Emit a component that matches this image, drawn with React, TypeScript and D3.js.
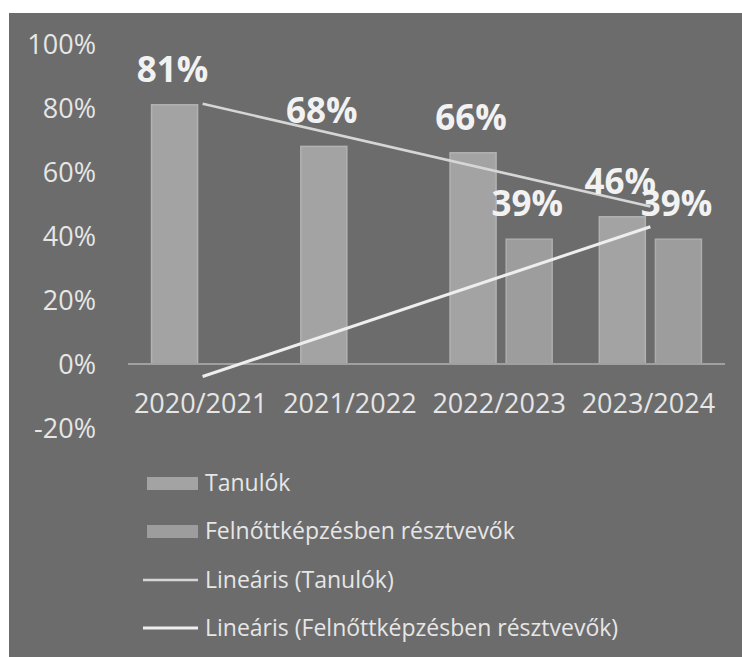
import React from "react";
import * as d3 from "d3";

const categories = ["2020/2021", "2021/2022", "2022/2023", "2023/2024"];
const tanulok = [81, 68, 66, 46];
const felnott = [0, 0, 39, 39];
const yTicks = [-20, 0, 20, 40, 60, 80, 100];
const legendLabels = [
  "Tanulók",
  "Felnőttképzésben résztvevők",
  "Lineáris (Tanulók)",
  "Lineáris (Felnőttképzésben résztvevők)",
];

function linearFit(vals: number[]) {
  const n = vals.length;
  const xs = vals.map((_, i) => i + 1);
  const mx = d3.mean(xs) as number;
  const my = d3.mean(vals) as number;
  let num = 0;
  let den = 0;
  xs.forEach((x, i) => {
    num += (x - mx) * (vals[i] - my);
    den += (x - mx) * (x - mx);
  });
  const slope = num / den;
  const b = my - slope * mx;
  return xs.map((x) => b + slope * x);
}

export default function App() {
  const W = 742;
  const H = 657;
  const font = "'Open Sans', 'Noto Sans', sans-serif";
  const x = d3.scaleBand<string>().domain(categories).range([128, 725]).padding(0);
  const sub = d3
    .scaleBand<string>()
    .domain(["t", "f"])
    .range([0, x.bandwidth()])
    .paddingInner(0.18)
    .paddingOuter(0.42);
  const y = d3.scaleLinear().domain([-20, 100]).range([428, 44]);

  const series = [
    { key: "t", values: tanulok, fill: "#a3a3a3", stroke: "#b2b2b2" },
    { key: "f", values: felnott, fill: "#9d9d9d", stroke: "#adadad" },
  ];
  const trendT = linearFit(tanulok);
  const trendF = linearFit(felnott);
  const cx = (c: string) => (x(c) as number) + x.bandwidth() / 2;
  const line = d3
    .line<number>()
    .x((_, i) => cx(categories[i]))
    .y((d) => y(d));
  const first = (arr: number[]) => [arr[0], arr[arr.length - 1]];
  const lineEnds = (arr: number[]) =>
    d3
      .line<[number, number]>()
      .x((d) => cx(categories[d[0]]))
      .y((d) => y(d[1]))([
      [0, arr[0]],
      [arr.length - 1, arr[arr.length - 1]],
    ]);

  const legendY = [483, 531, 580, 628];

  return (
    <svg
      width={W}
      height={H}
      style={{ position: "absolute", left: 0, top: 0, display: "block" }}
    >
      <rect x={0} y={0} width={W} height={H} fill="#ffffff" />
      <rect x={9} y={13} width={W - 9} height={H - 13} fill="#6c6c6c" />

      {yTicks.map((t) => (
        <text
          key={t}
          x={96}
          y={y(t)}
          dy="0.36em"
          textAnchor="end"
          fontFamily={font}
          fontSize={27}
          fill="#e6e6e6"
        >
          {t + "%"}
        </text>
      ))}

      {series.map((s) =>
        s.values.map((v, i) => {
          const c = categories[i];
          const bx = (x(c) as number) + (sub(s.key) as number);
          const top = y(Math.max(v, 0));
          const h = Math.abs(y(v) - y(0));
          return (
            <rect
              key={s.key + i}
              x={bx}
              y={top}
              width={sub.bandwidth()}
              height={h}
              fill={s.fill}
              stroke={h > 0 ? s.stroke : "none"}
              strokeWidth={1.5}
            />
          );
        })
      )}

      <line x1={128} x2={725} y1={y(0)} y2={y(0)} stroke="#a0a0a0" strokeWidth={2} />

      {categories.map((c) => (
        <text
          key={c}
          x={cx(c) - 2}
          y={413}
          textAnchor="middle"
          fontFamily={font}
          fontSize={27}
          fill="#e6e6e6"
        >
          {c}
        </text>
      ))}

      <path d={lineEnds(trendT) as string} stroke="#d6d6d6" strokeWidth={2.5} fill="none" />
      <path d={lineEnds(trendF) as string} stroke="#eeeeee" strokeWidth={3} fill="none" />

      {series.map((s) =>
        s.values.map((v, i) =>
          v > 0 ? (
            <text
              key={"l" + s.key + i}
              x={(x(categories[i]) as number) + (sub(s.key) as number) + sub.bandwidth() / 2 - 2}
              y={y(v) - 23}
              textAnchor="middle"
              fontFamily={font}
              fontWeight="bold"
              fontSize={35}
              fill="#f2f2f2"
            >
              {v + "%"}
            </text>
          ) : null
        )
      )}

      <rect x={147} y={legendY[0] - 6} width={51} height={13} fill="#a3a3a3" />
      <rect x={147} y={legendY[1] - 6} width={51} height={13} fill="#9d9d9d" />
      <line x1={143} x2={198} y1={legendY[2]} y2={legendY[2]} stroke="#d6d6d6" strokeWidth={2.5} />
      <line x1={143} x2={198} y1={legendY[3]} y2={legendY[3]} stroke="#eeeeee" strokeWidth={3} />
      {legendLabels.map((l, i) => (
        <text
          key={l}
          x={205}
          y={legendY[i]}
          dy="0.36em"
          fontFamily={font}
          fontSize={23}
          fill="#e6e6e6"
        >
          {l}
        </text>
      ))}
    </svg>
  );
}
